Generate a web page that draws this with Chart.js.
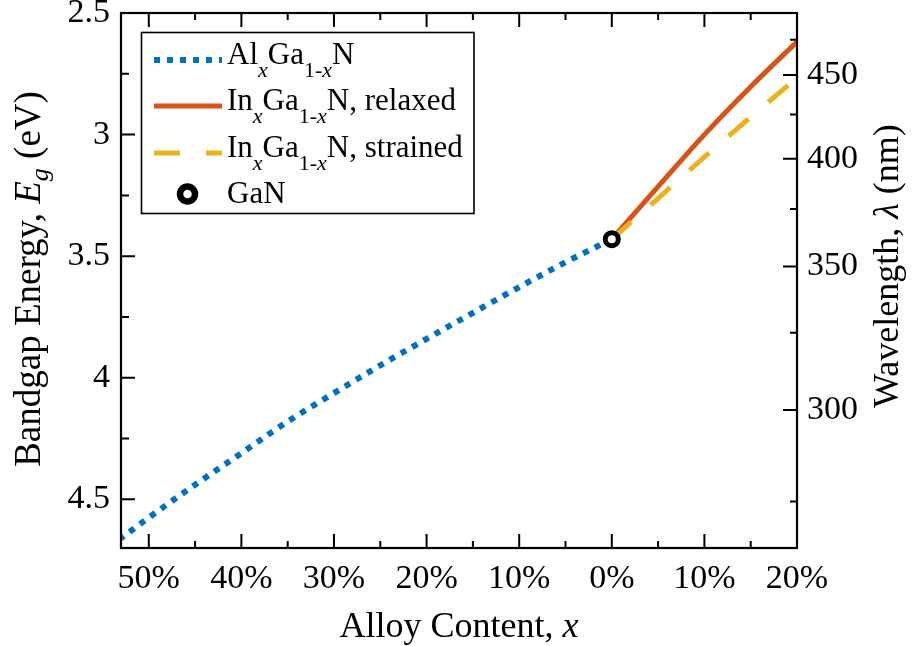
<!DOCTYPE html>
<html>
<head>
<meta charset="utf-8">
<script src="https://cdn.jsdelivr.net/npm/chart.js@4.4.1/dist/chart.umd.min.js"></script>
<style>
  html, body { margin: 0; padding: 0; background: #fff; }
  #wrap { width: 912px; height: 646px; }
</style>
</head>
<body>
<div id="wrap"><canvas id="chart" width="912" height="646"></canvas></div>
<script>
// --- data ---
// AlGaN is plotted to the left of 0 (x stored as positive Al content)
const alContent = [0, 0.05, 0.1, 0.15, 0.2, 0.25, 0.3, 0.35, 0.4, 0.45, 0.5, 0.53];
const alEnergy = [3.43, 3.525, 3.627, 3.733, 3.84, 3.949, 4.063, 4.18, 4.31, 4.44, 4.575, 4.66];

const inContent = [0, 0.05, 0.1, 0.15, 0.2];
const inRelaxed = [3.43, 3.214, 3.0, 2.803, 2.618];
const inStrained = [3.43, 3.262, 3.092, 2.928, 2.767];

const ganContent = [0];
const ganEnergy = [3.43];

// axis ticks
const contentTicks = [-0.5, -0.4, -0.3, -0.2, -0.1, 0, 0.1, 0.2];
const contentMinor = [-0.45, -0.35, -0.25, -0.15, -0.05, 0.05, 0.15];
const energyTicks = [2.5, 3, 3.5, 4, 4.5];
const energyMinor = [2.75, 3.25, 3.75, 4.25];
const wavelengthTicks = [450, 400, 350, 300];
const wavelengthMinor = [475, 425, 375, 325, 275];

const HC = 1239.84; // eV*nm
const FONT = "'Liberation Serif', 'Times New Roman', serif";

const BLUE = '#0072BD', ORANGE = '#D95319', YELLOW = '#EDB120';

function pts(xs, ys, sign) {
    return xs.map((x, i) => ({ x: sign * x, y: ys[i] }));
}

// text pieces with italic / subscript parts
function richWidth(ctx, parts, size, subSize) {
    let w = 0;
    parts.forEach(p => {
        ctx.font = (p.it ? 'italic ' : '') + (p.sub ? subSize : size) + 'px ' + FONT;
        w += ctx.measureText(p.t).width;
    });
    return w;
}
function drawRich(ctx, parts, x, y, size, subSize, subDrop) {
    ctx.textAlign = 'left';
    ctx.textBaseline = 'alphabetic';
    parts.forEach(p => {
        ctx.font = (p.it ? 'italic ' : '') + (p.sub ? subSize : size) + 'px ' + FONT;
        ctx.fillText(p.t, x, y + (p.sub ? subDrop : 0));
        x += ctx.measureText(p.t).width;
    });
}

const noPad = s => { s.paddingTop = 0; s.paddingBottom = 0; s.paddingLeft = 0; s.paddingRight = 0; };

const framePlugin = {
    id: 'frame',
    afterDraw(chart) {
        const ctx = chart.ctx;
        const a = chart.chartArea;
        const sx = chart.scales.x, sy = chart.scales.y;
        ctx.save();
        ctx.strokeStyle = '#000';
        ctx.fillStyle = '#000';

        // inward ticks on all four sides
        ctx.lineWidth = 2;
        ctx.beginPath();
        const xt = (list, len) => list.forEach(v => {
            const px = sx.getPixelForValue(v);
            ctx.moveTo(px, a.bottom); ctx.lineTo(px, a.bottom - len);
            ctx.moveTo(px, a.top); ctx.lineTo(px, a.top + len);
        });
        xt(contentTicks, 14); xt(contentMinor, 7);
        energyTicks.forEach(v => { const py = sy.getPixelForValue(v); ctx.moveTo(a.left, py); ctx.lineTo(a.left + 14, py); });
        energyMinor.forEach(v => { const py = sy.getPixelForValue(v); ctx.moveTo(a.left, py); ctx.lineTo(a.left + 8, py); });
        wavelengthTicks.forEach(l => { const py = sy.getPixelForValue(HC / l); ctx.moveTo(a.right, py); ctx.lineTo(a.right - 14, py); });
        wavelengthMinor.forEach(l => { const py = sy.getPixelForValue(HC / l); ctx.moveTo(a.right, py); ctx.lineTo(a.right - 7, py); });
        ctx.stroke();

        // frame
        ctx.lineWidth = 2.2;
        ctx.strokeRect(a.left, a.top, a.right - a.left, a.bottom - a.top);

        // legend
        const ds = chart.data.datasets;
        ctx.fillStyle = '#fff';
        ctx.fillRect(141.5, 32.5, 332.5, 181);
        ctx.lineWidth = 1.6;
        ctx.strokeStyle = '#000';
        ctx.strokeRect(141.5, 32.5, 332.5, 181);
        const rows = [
            { ds: ds[0], y: 64, parts: [{ t: 'Al' }, { t: 'x', sub: 1, it: 1 }, { t: 'Ga' }, { t: '1-', sub: 1 }, { t: 'x', sub: 1, it: 1 }, { t: 'N' }] },
            { ds: ds[1], y: 110, parts: [{ t: 'In' }, { t: 'x', sub: 1, it: 1 }, { t: 'Ga' }, { t: '1-', sub: 1 }, { t: 'x', sub: 1, it: 1 }, { t: 'N, relaxed' }] },
            { ds: ds[2], y: 157, parts: [{ t: 'In' }, { t: 'x', sub: 1, it: 1 }, { t: 'Ga' }, { t: '1-', sub: 1 }, { t: 'x', sub: 1, it: 1 }, { t: 'N, strained' }] },
            { ds: ds[3], y: 203, parts: [{ t: 'GaN' }] }
        ];
        rows.forEach((r, i) => {
            if (i < 3) {
                ctx.save();
                ctx.strokeStyle = r.ds.borderColor;
                ctx.lineWidth = r.ds.borderWidth;
                ctx.setLineDash(r.ds.borderDash || []);
                ctx.beginPath();
                ctx.moveTo(154, r.y - 4); ctx.lineTo(222, r.y - 4);
                ctx.stroke();
                ctx.restore();
            } else {
                ctx.beginPath();
                ctx.arc(187.5, r.y - 9, 7.5, 0, Math.PI * 2);
                ctx.fillStyle = '#fff'; ctx.fill();
                ctx.lineWidth = 6.5; ctx.strokeStyle = '#000'; ctx.stroke();
            }
            ctx.fillStyle = '#000';
            drawRich(ctx, r.parts, 227, r.y, 31, 22, 13);
        });

        // axis titles
        const cx = (a.left + a.right) / 2, cy = (a.top + a.bottom) / 2;
        const bottomT = [{ t: 'Alloy Content, ' }, { t: 'x', it: 1 }];
        drawRich(ctx, bottomT, cx - richWidth(ctx, bottomT, 36, 24) / 2, 637, 36, 24, 8);

        const leftT = [{ t: 'Bandgap Energy, ' }, { t: 'E', it: 1 }, { t: 'g', it: 1, sub: 1 }, { t: ' (eV)' }];
        ctx.save();
        ctx.translate(40, 279);
        ctx.rotate(-Math.PI / 2);
        drawRich(ctx, leftT, -richWidth(ctx, leftT, 37, 26) / 2, 0, 37, 26, 8);
        ctx.restore();

        const rightT = [{ t: 'Wavelength, ' }, { t: '\u03bb', it: 1 }, { t: ' (nm)' }];
        ctx.save();
        ctx.translate(898, 266);
        ctx.rotate(-Math.PI / 2);
        drawRich(ctx, rightT, -richWidth(ctx, rightT, 36, 24) / 2, 0, 36, 24, 8);
        ctx.restore();

        ctx.restore();
    }
};

const tickFont = { family: FONT, size: 34 };

new Chart(document.getElementById('chart'), {
    type: 'scatter',
    data: {
        datasets: [{
            label: 'AlxGa1-xN',
            data: pts(alContent, alEnergy, -1),
            showLine: true,
            cubicInterpolationMode: 'monotone',
            borderColor: BLUE,
            borderWidth: 6,
            borderDash: [6, 7],
            pointRadius: 0,
            order: 3
        }, {
            label: 'InxGa1-xN, relaxed',
            data: pts(inContent, inRelaxed, 1),
            showLine: true,
            cubicInterpolationMode: 'monotone',
            borderColor: ORANGE,
            borderWidth: 5,
            pointRadius: 0,
            order: 2
        }, {
            label: 'InxGa1-xN, strained',
            data: pts(inContent, inStrained, 1),
            showLine: true,
            cubicInterpolationMode: 'monotone',
            borderColor: YELLOW,
            borderWidth: 5,
            borderDash: [26, 26],
            pointRadius: 0,
            order: 1
        }, {
            label: 'GaN',
            data: pts(ganContent, ganEnergy, 1),
            pointRadius: 6.5,
            borderWidth: 5,
            borderColor: '#000',
            backgroundColor: '#fff',
            order: 0
        }]
    },
    options: {
        responsive: false,
        animation: false,
        layout: { padding: { top: 13, left: 0, right: 0, bottom: 0 } },
        plugins: { legend: { display: false }, tooltip: { enabled: false } },
        scales: {
            x: {
                type: 'linear',
                position: 'bottom',
                min: -0.53,
                max: 0.2,
                grid: { display: false, drawTicks: false },
                border: { display: false },
                afterBuildTicks: s => { s.ticks = contentTicks.map(v => ({ value: v })); },
                afterFit: s => { s.height = 98; noPad(s); },
                ticks: {
                    autoSkip: false, maxRotation: 0, padding: 11,
                    color: '#000', font: tickFont,
                    callback: v => Math.round(Math.abs(v) * 100) + '%'
                }
            },
            y: {
                type: 'linear',
                position: 'left',
                reverse: true,
                min: 2.5,
                max: 4.7,
                grid: { display: false, drawTicks: false },
                border: { display: false },
                afterBuildTicks: s => { s.ticks = energyTicks.map(v => ({ value: v })); },
                afterFit: s => { s.width = 121; noPad(s); },
                ticks: {
                    autoSkip: false, padding: 11,
                    color: '#000', font: tickFont,
                    callback: v => String(v)
                }
            },
            y2: {
                type: 'linear',
                position: 'right',
                reverse: true,
                min: 2.5,
                max: 4.7,
                grid: { display: false, drawTicks: false },
                border: { display: false },
                afterBuildTicks: s => { s.ticks = wavelengthTicks.map(l => ({ value: HC / l })); },
                afterFit: s => { s.width = 115; noPad(s); },
                ticks: {
                    autoSkip: false, padding: 10,
                    color: '#000', font: tickFont,
                    callback: v => String(Math.round(HC / v))
                }
            }
        }
    },
    plugins: [framePlugin]
});
</script>
</body>
</html>
